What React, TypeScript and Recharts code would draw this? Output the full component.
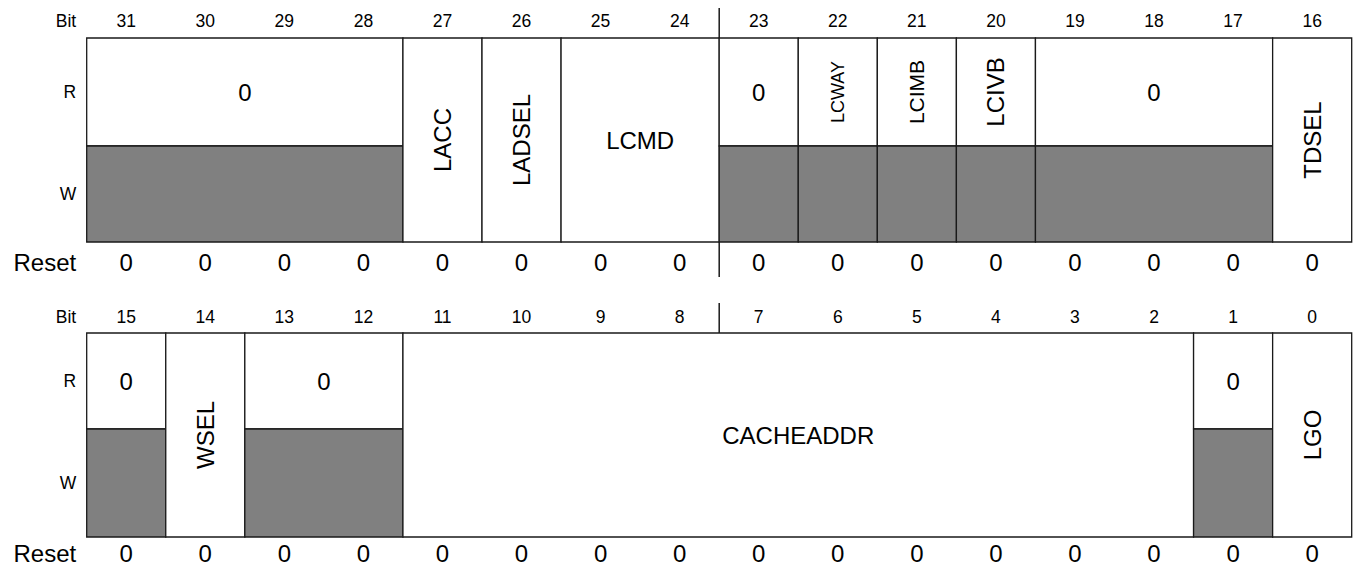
import {
  ComposedChart,
  XAxis,
  YAxis,
  Scatter,
  ReferenceArea,
  ReferenceLine,
} from "recharts";

const FONT = '"Liberation Sans", Arial, Helvetica, sans-serif';
const GRAY = "#808080";
const LINE = "#1a1a1a";

// bit numbers of each register half
const topBits = [31, 30, 29, 28, 27, 26, 25, 24, 23, 22, 21, 20, 19, 18, 17, 16];
const bottomBits = [15, 14, 13, 12, 11, 10, 9, 8, 7, 6, 5, 4, 3, 2, 1, 0];

// fields: "r" = read only (write row greyed), "rw" = read/write
const topFields = [
  { name: "0", msb: 31, lsb: 28, access: "r" },
  { name: "LACC", msb: 27, lsb: 27, access: "rw" },
  { name: "LADSEL", msb: 26, lsb: 26, access: "rw" },
  { name: "LCMD", msb: 25, lsb: 24, access: "rw" },
  { name: "0", msb: 23, lsb: 23, access: "r" },
  { name: "LCWAY", msb: 22, lsb: 22, access: "r" },
  { name: "LCIMB", msb: 21, lsb: 21, access: "r" },
  { name: "LCIVB", msb: 20, lsb: 20, access: "r" },
  { name: "0", msb: 19, lsb: 17, access: "r" },
  { name: "TDSEL", msb: 16, lsb: 16, access: "rw" },
];
const bottomFields = [
  { name: "0", msb: 15, lsb: 15, access: "r" },
  { name: "WSEL", msb: 14, lsb: 14, access: "rw" },
  { name: "0", msb: 13, lsb: 12, access: "r" },
  { name: "CACHEADDR", msb: 11, lsb: 2, access: "rw" },
  { name: "0", msb: 1, lsb: 1, access: "r" },
  { name: "LGO", msb: 0, lsb: 0, access: "rw" },
];

const topReset = [0, 0, 0, 0, 0, 0, 0, 0, 0, 0, 0, 0, 0, 0, 0, 0];
const bottomReset = [0, 0, 0, 0, 0, 0, 0, 0, 0, 0, 0, 0, 0, 0, 0, 0];

const rowLabels = ["Bit", "R", "W", "Reset"];

// layout of the two register blocks (y in chart units = px)
const blocks = [
  { bits: topBits, fields: topFields, reset: topReset, top: 38, rH: 108, wH: 96, head: 17, foot: 20 },
  { bits: bottomBits, fields: bottomFields, reset: bottomReset, top: 333, rH: 96, wH: 108, head: 16, foot: 16 },
];

const smallNames: Record<string, number> = { LCWAY: 18, LCIMB: 21 };

const cells: any[] = [];
const bitText: any[] = [];
const nameText: any[] = [];
const resetText: any[] = [];
const yTicks: { y: number; label: string }[] = [];
const separators: { y1: number; y2: number }[] = [];

blocks.forEach((b) => {
  const msb0 = b.bits[0];
  const bottom = b.top + b.rH + b.wH;
  b.bits.forEach((bit, i) => {
    bitText.push({ x: i + 0.5, y: b.top - b.head, text: String(bit) });
    resetText.push({ x: i + 0.5, y: bottom + b.foot, text: String(b.reset[i]) });
  });
  b.fields.forEach((f) => {
    const c0 = msb0 - f.msb;
    const c1 = msb0 - f.lsb + 1;
    const vertical = f.msb === f.lsb && f.name !== "0";
    if (f.access === "rw") {
      cells.push({ x1: c0, x2: c1, y1: b.top, y2: bottom, fill: "#fff" });
      nameText.push({ x: (c0 + c1) / 2, y: (b.top + bottom) / 2, text: f.name, vertical });
    } else {
      cells.push({ x1: c0, x2: c1, y1: b.top, y2: b.top + b.rH, fill: "#fff" });
      cells.push({ x1: c0, x2: c1, y1: b.top + b.rH, y2: bottom, fill: GRAY });
      nameText.push({ x: (c0 + c1) / 2, y: b.top + b.rH / 2, text: f.name, vertical });
    }
  });
  yTicks.push({ y: b.top - b.head, label: rowLabels[0] });
  yTicks.push({ y: b.top + b.rH / 2, label: rowLabels[1] });
  yTicks.push({ y: b.top + b.rH + b.wH / 2, label: rowLabels[2] });
  yTicks.push({ y: bottom + b.foot, label: rowLabels[3] });
  separators.push({ y1: b.top - 30, y2: b.top });
  separators.push({ y1: bottom, y2: bottom + 35 });
});

const TextShape = (size: number) => (props: any) => {
  const { cx, cy, payload } = props;
  const fs = smallNames[payload.text] ?? size;
  return (
    <text
      x={cx}
      y={cy}
      textAnchor="middle"
      dominantBaseline="central"
      fontFamily={FONT}
      fontSize={fs}
      fill="#000"
      transform={payload.vertical ? `rotate(-90, ${cx}, ${cy})` : undefined}
    >
      {payload.text}
    </text>
  );
};

const RowTick = (props: any) => {
  const { x, y, payload } = props;
  const t = yTicks.find((d) => d.y === payload.value);
  const label = t ? t.label : "";
  return (
    <text
      x={x}
      y={y}
      textAnchor="end"
      dominantBaseline="central"
      fontFamily={FONT}
      fontSize={label === "Reset" ? 24 : 17.5}
      fill="#000"
    >
      {label}
    </text>
  );
};

export default function App() {
  return (
    <div style={{ position: "absolute", left: 0, top: 0, background: "#fff" }}>
      <ComposedChart
        width={1353}
        height={567}
        margin={{ top: 0, right: 1.3, bottom: 0, left: 0 }}
      >
        <XAxis type="number" dataKey="x" domain={[0, 16]} allowDataOverflow hide />
        <YAxis
          type="number"
          dataKey="y"
          domain={[0, 567]}
          reversed
          allowDataOverflow
          width={86.7}
          axisLine={false}
          tickLine={false}
          tickSize={0}
          tickMargin={10.5}
          ticks={yTicks.map((t) => t.y)}
          interval={0}
          tick={RowTick}
        />
        {cells.map((c, i) => (
          <ReferenceArea
            key={`c${i}`}
            x1={c.x1}
            x2={c.x2}
            y1={c.y1}
            y2={c.y2}
            fill={c.fill}
            fillOpacity={1}
            stroke={LINE}
            strokeWidth={1.3}
          />
        ))}
        {separators.map((s, i) => (
          <ReferenceLine
            key={`s${i}`}
            segment={[
              { x: 8, y: s.y1 },
              { x: 8, y: s.y2 },
            ]}
            stroke={LINE}
            strokeWidth={1.5}
          />
        ))}
        <Scatter data={bitText} shape={TextShape(17.5)} isAnimationActive={false} />
        <Scatter data={nameText} shape={TextShape(24)} isAnimationActive={false} />
        <Scatter data={resetText} shape={TextShape(24)} isAnimationActive={false} />
      </ComposedChart>
    </div>
  );
}
